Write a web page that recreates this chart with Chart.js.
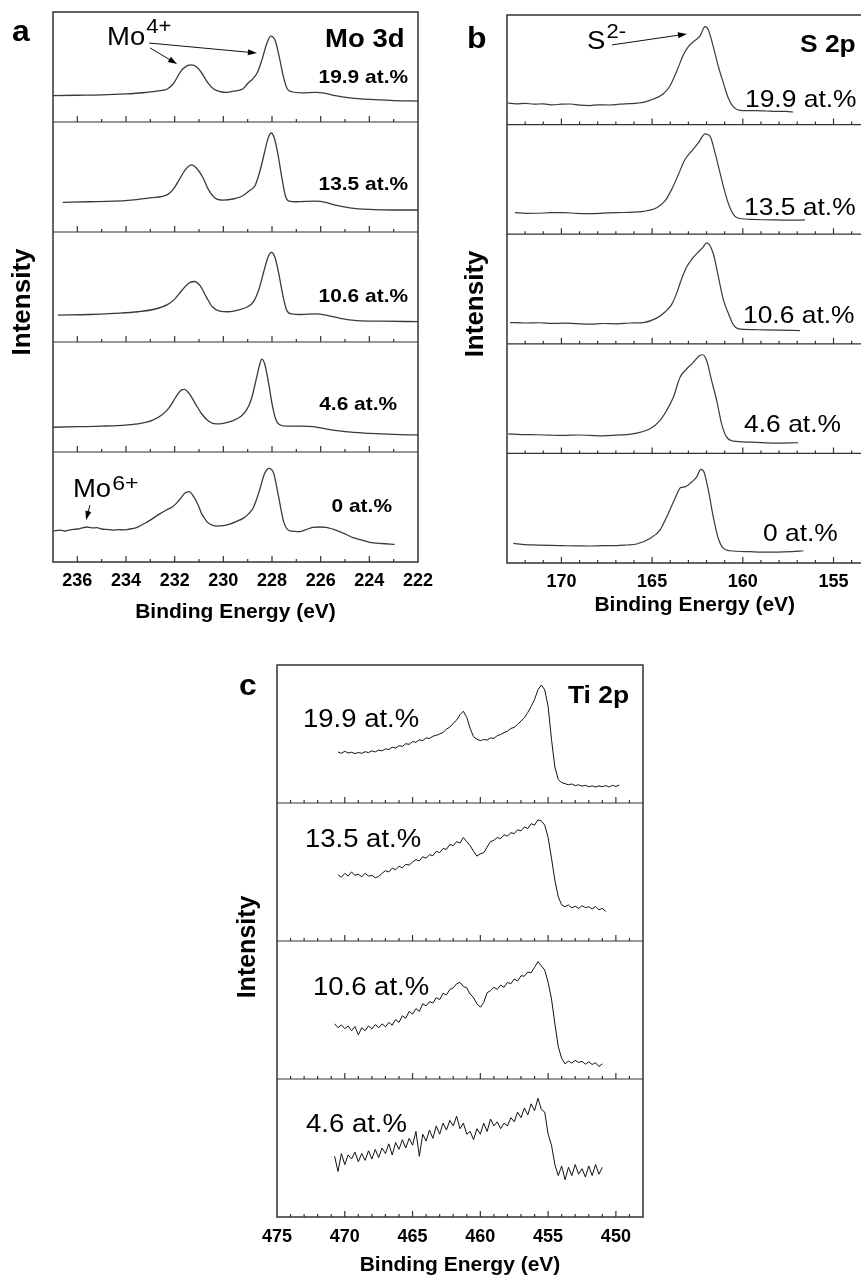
<!DOCTYPE html>
<html>
<head>
<meta charset="utf-8">
<script src="https://cdn.jsdelivr.net/npm/chart.js@4.4.1/dist/chart.umd.min.js"></script>
<style>
  html, body { margin: 0; padding: 0; background: #fff; overflow: hidden; width: 861px; height: 1277px; }
  body { position: relative; }
  canvas { position: absolute; }
</style>
</head>
<body>
<canvas id="chartA" width="445" height="640" style="left:0px;top:0px"></canvas>
<canvas id="chartB" width="450" height="640" style="left:440px;top:0px"></canvas>
<canvas id="chartC" width="460" height="650" style="left:200px;top:640px"></canvas>
<script>
const FONT = "'Liberation Sans', Arial, sans-serif";
const STRETCH = 1.1; // the printed figure is a bit wider than tall

// ---------- panel a : Mo 3d  (binding energy, relative intensity in its strip)
const moLabels = ['19.9 at.%', '13.5 at.%', '10.6 at.%', '4.6 at.%', '0 at.%'];
const mo199 = [[237,0.24],[236,0.243],[235,0.246],[234,0.255],[233.3,0.266],[232.6,0.285],[232.3,0.3],[232.05,0.35],[231.75,0.46],[231.5,0.51],[231.3,0.52],[231.1,0.5],[230.9,0.45],[230.65,0.36],[230.4,0.3],[230.1,0.275],[229.85,0.27],[229.6,0.28],[229.2,0.3],[229.0,0.35],[228.8,0.39],[228.6,0.45],[228.42,0.56],[228.22,0.71],[228.05,0.78],[227.87,0.74],[227.7,0.59],[227.53,0.41],[227.37,0.3],[227.18,0.275],[226.8,0.265],[226.2,0.27],[225.8,0.26],[225.4,0.24],[224.8,0.22],[224.0,0.205],[223.0,0.195],[222.0,0.19]];
const mo135 = [[236.6,0.27],[235.5,0.275],[234.5,0.28],[233.8,0.29],[233.0,0.31],[232.3,0.34],[232.05,0.39],[231.8,0.48],[231.55,0.57],[231.3,0.61],[231.1,0.58],[230.85,0.5],[230.6,0.38],[230.35,0.31],[230.0,0.29],[229.6,0.3],[229.2,0.33],[228.9,0.38],[228.7,0.42],[228.5,0.55],[228.3,0.73],[228.15,0.86],[228.03,0.9],[227.9,0.85],[227.75,0.7],[227.6,0.5],[227.45,0.33],[227.3,0.28],[227.0,0.275],[226.2,0.28],[225.8,0.27],[225.4,0.245],[224.8,0.22],[224.0,0.205],[223.0,0.2],[222.0,0.2]];
const mo106 = [[236.8,0.245],[235.5,0.25],[234.5,0.26],[233.5,0.275],[232.8,0.3],[232.3,0.34],[232.0,0.39],[231.7,0.47],[231.45,0.53],[231.2,0.55],[230.95,0.51],[230.7,0.41],[230.45,0.32],[230.15,0.28],[229.8,0.275],[229.4,0.29],[229.0,0.32],[228.75,0.37],[228.55,0.47],[228.35,0.63],[228.15,0.78],[228.02,0.815],[227.88,0.77],[227.72,0.62],[227.55,0.42],[227.4,0.29],[227.2,0.255],[226.8,0.25],[226.2,0.255],[225.7,0.24],[225.2,0.215],[224.5,0.195],[223.5,0.19],[222.0,0.185]];
const mo46 = [[237,0.225],[236,0.23],[235,0.235],[234,0.245],[233.4,0.26],[232.9,0.29],[232.5,0.34],[232.2,0.41],[231.95,0.5],[231.75,0.56],[231.6,0.57],[231.4,0.53],[231.15,0.44],[230.9,0.35],[230.6,0.28],[230.3,0.255],[230.0,0.26],[229.6,0.285],[229.3,0.32],[229.05,0.38],[228.85,0.48],[228.65,0.66],[228.5,0.8],[228.42,0.845],[228.3,0.8],[228.15,0.64],[228.0,0.44],[227.85,0.3],[227.7,0.25],[227.4,0.235],[226.8,0.235],[226.3,0.23],[225.8,0.21],[225.0,0.185],[224.0,0.17],[223.0,0.16],[222.0,0.155]];
const mo0 = [[237,0.282],[236.7,0.29],[236.5,0.282],[236.3,0.292],[236.0,0.3],[235.8,0.31],[235.63,0.318],[235.4,0.31],[235.2,0.312],[235.0,0.3],[234.8,0.296],[234.53,0.29],[234.3,0.294],[234.1,0.292],[233.85,0.3],[233.6,0.31],[233.44,0.327],[233.2,0.355],[232.89,0.397],[232.6,0.44],[232.34,0.473],[232.1,0.5],[231.93,0.533],[231.75,0.58],[231.59,0.624],[231.41,0.64],[231.18,0.58],[231.0,0.5],[230.9,0.442],[230.75,0.39],[230.63,0.357],[230.45,0.335],[230.29,0.327],[230.0,0.33],[229.74,0.345],[229.45,0.37],[229.19,0.397],[228.95,0.44],[228.78,0.488],[228.65,0.56],[228.51,0.655],[228.3,0.806],[228.12,0.852],[227.93,0.806],[227.73,0.594],[227.52,0.367],[227.27,0.282],[227.05,0.278],[226.86,0.276],[226.6,0.295],[226.32,0.315],[226.05,0.318],[225.77,0.315],[225.5,0.298],[225.22,0.276],[224.95,0.25],[224.67,0.221],[224.3,0.198],[223.99,0.179],[223.5,0.168],[222.96,0.161]];

// ---------- panel b : S 2p
const sLabels = ['19.9 at.%', '13.5 at.%', '10.6 at.%', '4.6 at.%', '0 at.%'];
const s199 = [[172.95,0.197],[172.5,0.19],[172.0,0.194],[171.5,0.186],[171.0,0.19],[170.5,0.18],[170.0,0.186],[169.5,0.188],[169.0,0.178],[168.42,0.174],[168.0,0.18],[167.32,0.179],[166.8,0.186],[166.22,0.191],[165.8,0.196],[165.48,0.203],[164.93,0.233],[164.38,0.282],[164.01,0.355],[163.65,0.485],[163.28,0.636],[163.0,0.712],[162.64,0.767],[162.36,0.809],[162.08,0.894],[161.9,0.864],[161.63,0.712],[161.35,0.53],[161.07,0.379],[160.8,0.242],[160.52,0.161],[160.16,0.13],[159.7,0.128],[159.24,0.127],[158.7,0.124],[158.13,0.121],[157.6,0.12],[157.22,0.115]];
const s135 = [[172.56,0.197],[172.0,0.19],[171.36,0.191],[170.6,0.196],[169.89,0.197],[169.2,0.19],[168.42,0.188],[167.7,0.192],[166.95,0.197],[166.2,0.2],[165.48,0.209],[164.75,0.242],[164.29,0.303],[163.92,0.409],[163.55,0.545],[163.19,0.682],[162.82,0.758],[162.45,0.833],[162.08,0.915],[161.81,0.894],[161.53,0.742],[161.26,0.561],[160.98,0.379],[160.71,0.242],[160.34,0.152],[159.6,0.136],[158.9,0.132],[158.13,0.13],[157.3,0.128],[156.57,0.13]];
const s106 = [[172.83,0.194],[172.0,0.19],[171.2,0.192],[170.5,0.186],[169.89,0.188],[169.2,0.184],[168.42,0.18],[167.7,0.185],[166.95,0.182],[166.2,0.19],[165.48,0.194],[164.75,0.234],[164.29,0.29],[163.92,0.36],[163.65,0.46],[163.4,0.58],[163.1,0.7],[162.82,0.77],[162.5,0.83],[162.2,0.88],[161.99,0.921],[161.63,0.824],[161.35,0.612],[161.07,0.4],[160.8,0.279],[160.52,0.173],[160.16,0.134],[159.5,0.13],[158.87,0.127],[158.0,0.124],[156.85,0.121]];
const s46 = [[172.93,0.179],[172.2,0.172],[171.36,0.17],[170.6,0.166],[169.89,0.164],[169.1,0.168],[168.42,0.164],[167.7,0.16],[166.95,0.167],[166.4,0.172],[165.85,0.185],[165.12,0.224],[164.57,0.3],[164.2,0.391],[163.83,0.512],[163.46,0.694],[163.1,0.77],[162.73,0.83],[162.4,0.891],[162.21,0.9],[161.99,0.845],[161.72,0.664],[161.44,0.482],[161.17,0.27],[160.89,0.148],[160.52,0.112],[159.6,0.103],[158.9,0.098],[158.13,0.094],[156.94,0.097]];
const s0 = [[172.65,0.179],[172.0,0.168],[171.36,0.164],[170.6,0.16],[169.89,0.158],[169.1,0.156],[168.42,0.155],[167.7,0.158],[166.95,0.158],[166.4,0.164],[165.85,0.173],[165.12,0.224],[164.57,0.3],[164.11,0.452],[163.74,0.588],[163.43,0.688],[163.19,0.694],[162.82,0.739],[162.54,0.785],[162.32,0.855],[162.14,0.83],[161.9,0.664],[161.63,0.421],[161.35,0.224],[161.07,0.133],[160.71,0.112],[159.6,0.103],[158.9,0.1],[158.13,0.1],[157.3,0.104],[156.66,0.112]];

// ---------- panel c : Ti 2p  (one energy grid, null where a scan has no data)
const tiLabels = ['19.9 at.%', '13.5 at.%', '10.6 at.%', '4.6 at.%'];
const tiE = [471,470.75,470.5,470.25,470,469.75,469.5,469.25,469,468.75,468.5,468.25,468,467.75,467.5,467.25,467,466.75,466.5,466.25,466,465.75,465.5,465.25,465,464.75,464.5,464.25,464,463.75,463.5,463.25,463,462.75,462.5,462.25,462,461.75,461.5,461.25,461,460.75,460.5,460.25,460,459.75,459.5,459.25,459,458.75,458.5,458.25,458,457.75,457.5,457.25,457,456.75,456.5,456.25,456,455.75,455.5,455.25,455,454.75,454.5,454.25,454,453.75,453.5,453.25,453,452.75,452.5,452.25,452,451.75,451.5,451.25,451,450.75,450.5,450.25,450,449.75,449.5];
const ti199 = [null,null,0.37,0.36,0.375,0.362,0.368,0.358,0.366,0.36,0.372,0.365,0.378,0.37,0.384,0.378,0.392,0.388,0.404,0.398,0.415,0.41,0.43,0.425,0.445,0.44,0.458,0.452,0.472,0.468,0.484,0.49,0.5,0.512,0.535,0.55,0.578,0.6,0.64,0.665,0.62,0.54,0.48,0.462,0.452,0.46,0.456,0.472,0.468,0.488,0.496,0.51,0.52,0.54,0.548,0.57,0.594,0.618,0.656,0.7,0.75,0.82,0.855,0.82,0.7,0.46,0.26,0.17,0.148,0.14,0.132,0.138,0.126,0.132,0.122,0.128,0.118,0.124,0.116,0.124,0.118,0.126,0.116,0.128,0.12,0.13,null];
const ti135 = [null,null,0.48,0.462,0.49,0.47,0.5,0.476,0.484,0.466,0.49,0.47,0.476,0.458,0.468,0.49,0.51,0.5,0.528,0.516,0.542,0.53,0.556,0.55,0.572,0.59,0.58,0.61,0.6,0.626,0.618,0.65,0.64,0.67,0.664,0.7,0.69,0.72,0.71,0.75,0.72,0.69,0.65,0.615,0.632,0.64,0.68,0.72,0.73,0.75,0.742,0.77,0.76,0.785,0.778,0.806,0.798,0.826,0.815,0.85,0.84,0.878,0.87,0.84,0.75,0.6,0.44,0.32,0.262,0.248,0.262,0.24,0.252,0.236,0.256,0.242,0.248,0.232,0.25,0.226,0.236,0.215,null,null,null,null,null];
const ti106 = [null,0.4,0.372,0.392,0.365,0.384,0.35,0.38,0.32,0.372,0.35,0.385,0.362,0.395,0.37,0.4,0.378,0.41,0.39,0.43,0.41,0.458,0.44,0.49,0.47,0.51,0.49,0.545,0.53,0.56,0.55,0.59,0.575,0.62,0.61,0.648,0.66,0.69,0.7,0.67,0.66,0.615,0.59,0.545,0.52,0.555,0.625,0.64,0.665,0.65,0.68,0.665,0.7,0.69,0.725,0.71,0.748,0.745,0.775,0.77,0.81,0.85,0.82,0.79,0.7,0.58,0.4,0.234,0.15,0.11,0.13,0.115,0.135,0.12,0.128,0.108,0.124,0.105,0.118,0.09,0.11,null,null,null,null,null,null];
const ti46 = [null,0.44,0.33,0.46,0.38,0.45,0.42,0.47,0.4,0.46,0.41,0.48,0.42,0.49,0.43,0.5,0.46,0.53,0.45,0.54,0.49,0.56,0.5,0.57,0.52,0.62,0.44,0.6,0.55,0.63,0.57,0.66,0.6,0.68,0.63,0.7,0.66,0.73,0.64,0.68,0.6,0.62,0.56,0.64,0.6,0.68,0.62,0.71,0.66,0.69,0.64,0.68,0.66,0.72,0.69,0.76,0.72,0.79,0.74,0.82,0.77,0.86,0.78,0.76,0.6,0.52,0.38,0.3,0.37,0.27,0.36,0.3,0.38,0.31,0.35,0.29,0.37,0.3,0.38,0.31,0.36,null,null,null,null,null,null];

// ---------- texts and arrows, placed in (energy, stack units)
const notesA = [
  { t: 'a', e: 238.69, v: 4.736, font: 'bold 29px' },
  { t: 'Mo 3d', e: 225.82, v: 4.682, font: 'bold 25px' },
  { t: moLabels[0], e: 222.41, v: 4.355, font: 'bold 19px', align: 'right' },
  { t: moLabels[1], e: 222.41, v: 3.382, font: 'bold 19px', align: 'right' },
  { t: moLabels[2], e: 222.41, v: 2.364, font: 'bold 19px', align: 'right' },
  { t: moLabels[3], e: 222.86, v: 1.382, font: 'bold 19px', align: 'right' },
  { t: moLabels[4], e: 223.07, v: 0.4545, font: 'bold 19px', align: 'right' },
  { t: 'Mo', sup: '4+', e: 234.78, v: 4.70, font: '25px', supFont: '20px', raise: 12 },
  { t: 'Mo', sup: '6+', e: 236.18, v: 0.591, font: '25px', supFont: '21px', raise: 7 },
  { t: 'Intensity', e: 238.23, v: 2.364, font: 'bold 26px', rot: true }
];
const arrowsA = [
  [233.05, 4.718, 228.62, 4.627],
  [233.01, 4.673, 231.90, 4.527],
  [235.48, 0.518, 235.64, 0.382]
];
const notesB = [
  { t: 'b', e: 175.2, v: 4.70, font: 'bold 29px' },
  { t: 'S 2p', e: 156.85, v: 4.664, font: 'bold 24px' },
  { t: sLabels[0], e: 159.88, v: 4.164, font: '24px' },
  { t: sLabels[1], e: 159.93, v: 3.179, font: '24px' },
  { t: sLabels[2], e: 159.99, v: 2.194, font: '24px' },
  { t: sLabels[3], e: 159.93, v: 1.194, font: '24px' },
  { t: sLabels[4], e: 158.89, v: 0.203, font: '24px' },
  { t: 'S', sup: '2-', e: 168.59, v: 4.69, font: '25px', supFont: '20px', raise: 11 },
  { t: 'Intensity', e: 174.71, v: 2.364, font: 'bold 26px', rot: true }
];
const arrowsB = [
  [167.21, 4.727, 163.08, 4.827]
];
const notesC = [
  { t: 'c', e: 477.8, v: 3.783, font: 'bold 29px' },
  { t: 'Ti 2p', e: 453.54, v: 3.722, font: 'bold 24px' },
  { t: tiLabels[0], e: 473.08, v: 3.548, font: '25px' },
  { t: tiLabels[1], e: 472.94, v: 2.679, font: '25px' },
  { t: tiLabels[2], e: 472.35, v: 1.609, font: '25px' },
  { t: tiLabels[3], e: 472.86, v: 0.618, font: '25px' },
  { t: 'Intensity', e: 477.14, v: 1.957, font: 'bold 25px', rot: true }
];

const panelExtras = {
  chartA: { major: 2, notes: notesA, arrows: arrowsA },
  chartB: { major: 5, notes: notesB, arrows: arrowsB },
  chartC: { major: 5, notes: notesC, arrows: [] }
};

// frame, strip separators, inward ticks, annotations
const stackFrame = {
  id: 'stackFrame',
  afterDatasetsDraw(chart) {
    const extra = panelExtras[chart.canvas.id];
    const { ctx, chartArea: a } = chart;
    const x = chart.scales.x, y = chart.scales.y;
    ctx.save();
    ctx.strokeStyle = '#333';
    ctx.lineWidth = 1.5;
    ctx.strokeRect(a.left, a.top, a.right - a.left, a.bottom - a.top);
    const lo = Math.ceil(Math.min(x.min, x.max));
    const hi = Math.floor(Math.max(x.min, x.max));
    ctx.lineWidth = 1.2;
    for (let k = 0; k < y.max; k++) {
      const py = y.getPixelForValue(k);
      ctx.beginPath();
      if (k > 0) {
        ctx.moveTo(a.left, py);
        ctx.lineTo(a.right, py);
      }
      for (let e = lo; e <= hi; e++) {
        const px = x.getPixelForValue(e);
        if (px <= a.left + 1 || px >= a.right - 1) continue;
        const len = e % extra.major === 0 ? 6 : 3;
        ctx.moveTo(px, py);
        ctx.lineTo(px, py - len);
      }
      ctx.stroke();
    }
    ctx.restore();
  },
  afterDraw(chart) {
    const extra = panelExtras[chart.canvas.id];
    const { ctx } = chart;
    const x = chart.scales.x, y = chart.scales.y;
    ctx.save();
    ctx.fillStyle = '#000';
    ctx.strokeStyle = '#111';
    extra.notes.forEach(n => {
      ctx.save();
      ctx.translate(x.getPixelForValue(n.e), y.getPixelForValue(n.v));
      ctx.font = n.font + ' ' + FONT;
      if (n.rot) {
        ctx.rotate(-Math.PI / 2);
        ctx.textAlign = 'center';
        ctx.textBaseline = 'middle';
      } else {
        ctx.scale(STRETCH, 1);
        ctx.textAlign = n.align || 'left';
        ctx.textBaseline = 'alphabetic';
      }
      ctx.fillText(n.t, 0, 0);
      if (n.sup) {
        const w = ctx.measureText(n.t).width;
        ctx.font = n.supFont + ' ' + FONT;
        ctx.fillText(n.sup, w + 1, -n.raise);
      }
      ctx.restore();
    });
    ctx.lineWidth = 1;
    extra.arrows.forEach(([e0, v0, e1, v1]) => {
      const x0 = x.getPixelForValue(e0), y0 = y.getPixelForValue(v0);
      const x1 = x.getPixelForValue(e1), y1 = y.getPixelForValue(v1);
      const ang = Math.atan2(y1 - y0, x1 - x0);
      ctx.beginPath();
      ctx.moveTo(x0, y0);
      ctx.lineTo(x1 - 6 * Math.cos(ang), y1 - 6 * Math.sin(ang));
      ctx.stroke();
      ctx.beginPath();
      ctx.moveTo(x1, y1);
      ctx.lineTo(x1 - 9 * Math.cos(ang) + 3 * Math.sin(ang), y1 - 9 * Math.sin(ang) - 3 * Math.cos(ang));
      ctx.lineTo(x1 - 9 * Math.cos(ang) - 3 * Math.sin(ang), y1 - 9 * Math.sin(ang) + 3 * Math.cos(ang));
      ctx.closePath();
      ctx.fill();
    });
    ctx.restore();
  }
};

function pairSets(curves, color, width) {
  const n = curves.length;
  return curves.map((pts, i) => ({
    data: pts.map(([e, v]) => ({ x: e, y: v + (n - 1 - i) })),
    borderColor: color,
    borderWidth: width,
    pointRadius: 0,
    cubicInterpolationMode: 'monotone',
    fill: false
  }));
}

function gridSets(energies, curves, color, width) {
  const n = curves.length;
  return curves.map((vals, i) => ({
    data: vals.map((v, j) => (v == null ? null : { x: energies[j], y: v + (n - 1 - i) })).filter(p => p),
    borderColor: color,
    borderWidth: width,
    pointRadius: 0,
    tension: 0,
    fill: false
  }));
}

function makeOptions(o) {
  return {
    responsive: false,
    animation: false,
    events: [],
    layout: { padding: o.pad },
    plugins: { legend: { display: false }, tooltip: { enabled: false } },
    scales: {
      x: {
        type: 'linear',
        min: o.min, max: o.max, reverse: true,
        grid: { display: false },
        border: { display: false },
        ticks: {
          stepSize: o.major, includeBounds: false, autoSkip: false, maxRotation: 0, padding: o.tickPad,
          color: '#000', font: { family: FONT, size: 18, weight: 'bold' },
          callback: v => (Number.isInteger(v) && v % o.major === 0 ? v : '')
        },
        title: {
          display: true, text: 'Binding Energy (eV)', color: '#000',
          font: { family: FONT, size: 21, weight: 'bold' },
          padding: { top: 0, bottom: o.titlePad }
        },
        afterFit: s => { s.height = o.xh; }
      },
      y: { display: false, min: 0, max: o.strips }
    }
  };
}

new Chart(document.getElementById('chartA'), {
  type: 'line',
  data: { datasets: pairSets([mo199, mo135, mo106, mo46, mo0], '#3a3a3a', 1.3) },
  options: makeOptions({ min: 222, max: 237, major: 2, strips: 5, pad: { left: 53, top: 12, right: 27, bottom: 8 }, tickPad: 0, titlePad: 7.4, xh: 70 }),
  plugins: [stackFrame]
});

new Chart(document.getElementById('chartB'), {
  type: 'line',
  data: { datasets: pairSets([s199, s135, s106, s46, s0], '#3a3a3a', 1.2) },
  options: makeOptions({ min: 152.3, max: 173, major: 5, strips: 5, pad: { left: 67, top: 15, right: 7.5, bottom: 17 }, tickPad: 0.5, titlePad: 5.4, xh: 60 }),
  plugins: [stackFrame]
});

new Chart(document.getElementById('chartC'), {
  type: 'line',
  data: { datasets: gridSets(tiE, [ti199, ti135, ti106, ti46], '#111', 1) },
  options: makeOptions({ min: 448, max: 475, major: 5, strips: 4, pad: { left: 77, top: 25, right: 17, bottom: 9 }, tickPad: 1.2, titlePad: 3.4, xh: 64 }),
  plugins: [stackFrame]
});
</script>
</body>
</html>
